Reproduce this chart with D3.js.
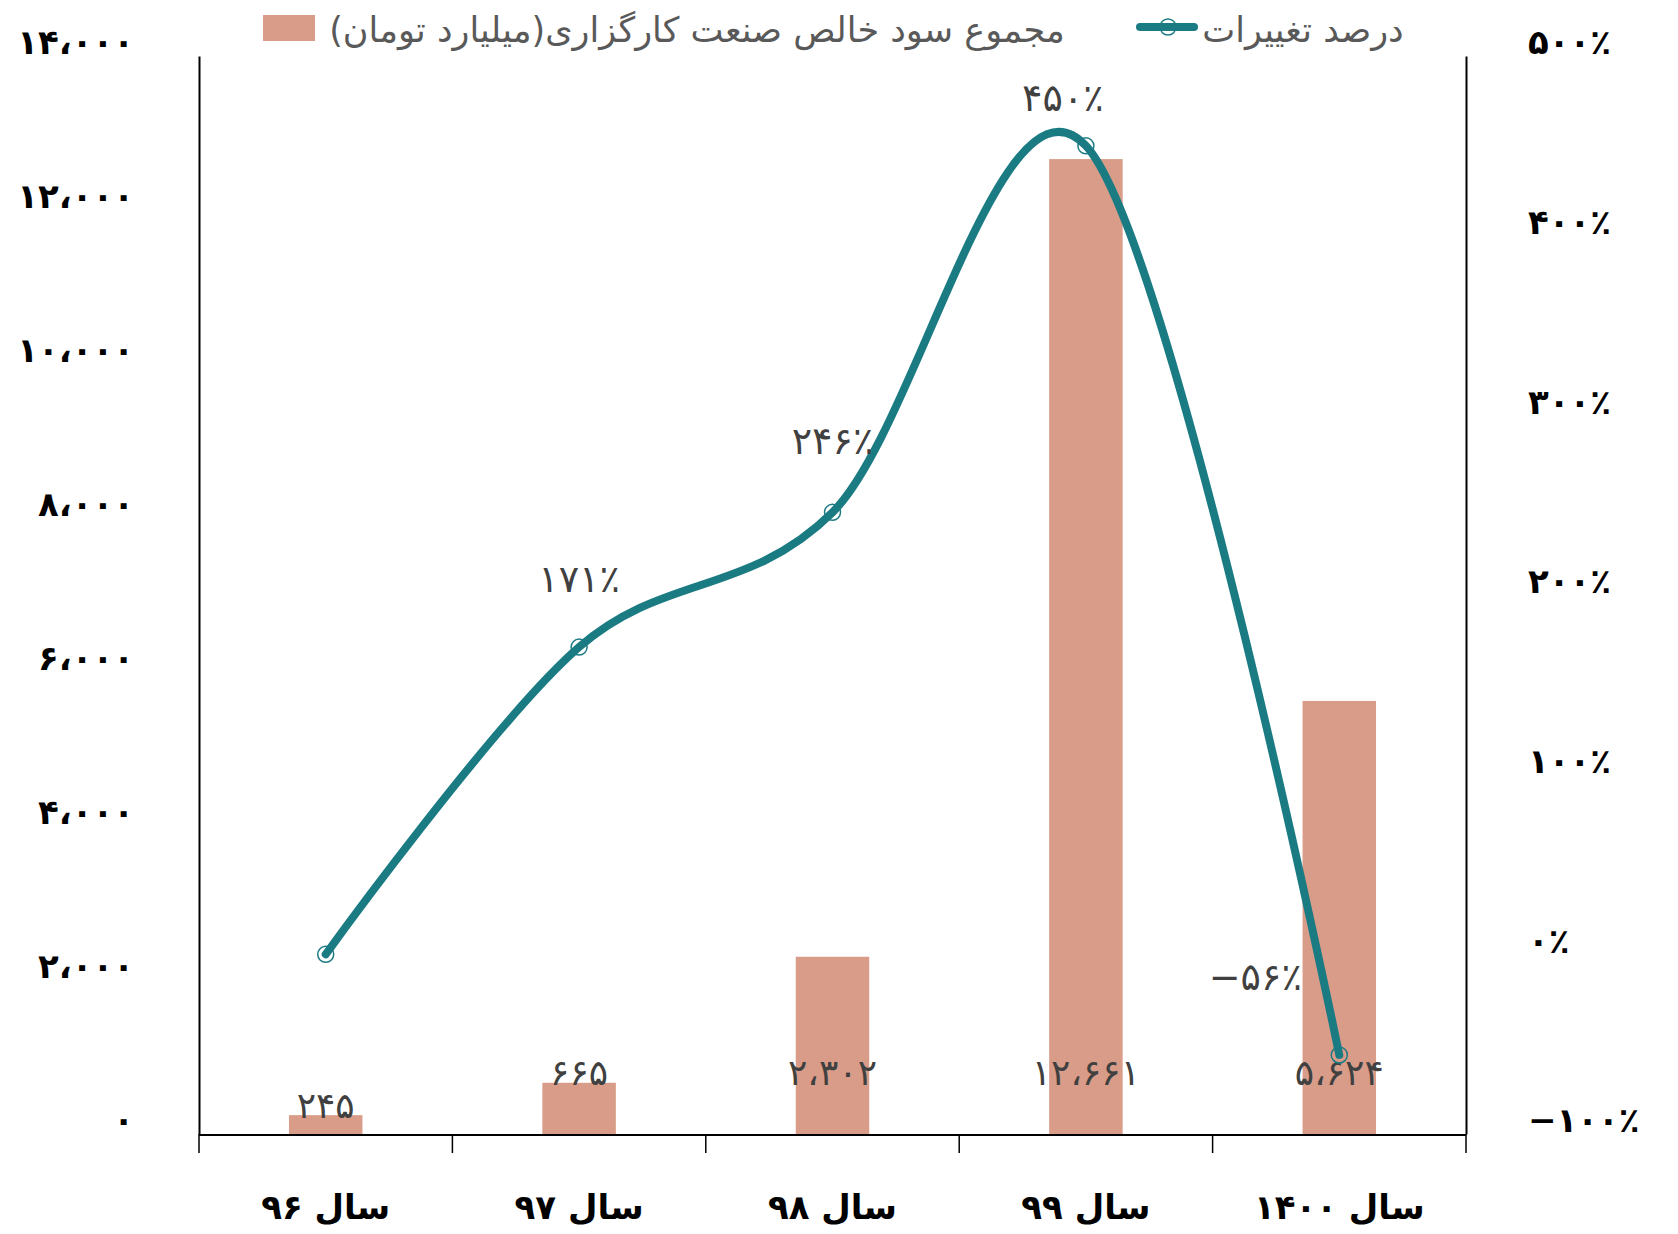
<!DOCTYPE html>
<html>
<head>
<meta charset="utf-8">
<script src="https://cdn.jsdelivr.net/npm/d3@7"></script>
<style>
  body { margin: 0; background: #fff; }
  svg { display: block; font-family: "DejaVu Sans", sans-serif; }
</style>
</head>
<body>
<svg id="chart" width="1678" height="1234"></svg>
<script>
// data
const categories = ["سال ۹۶", "سال ۹۷", "سال ۹۸", "سال ۹۹", "سال ۱۴۰۰"];
const profit = [245, 665, 2302, 12661, 5624];
const change = [0, 171, 246, 450, -56];
const changeShown = [false, true, true, true, true];
const leftTicks = [0, 2000, 4000, 6000, 8000, 10000, 12000, 14000];
const rightTicks = [-100, 0, 100, 200, 300, 400, 500];
const barName = "مجموع سود خالص صنعت کارگزاری(میلیارد تومان)";
const lineName = "درصد تغییرات";

const barColor = "#d89c89";
const lineColor = "#1b7b83";

const fa = s => String(s).replace(/\d/g, d => "۰۱۲۳۴۵۶۷۸۹"[d]).replace(/,/g, "،").replace(/-/g, "−");
const fmtNum = v => fa(d3.format(",")(v));
const fmtPct = v => fa(v + "") + "٪";

const svg = d3.select("#chart");
const margin = { left: 199, right: 1466, top: 56, bottom: 1134 };

const x = d3.scaleBand().domain(categories).range([margin.left, margin.right]).padding(0);
const yL = d3.scaleLinear().domain([0, 14000]).range([margin.bottom, margin.top]);
const yR = d3.scaleLinear().domain([-100, 500]).range([margin.bottom, margin.top]);
const cx = c => x(c) + x.bandwidth() / 2;

// bars
const barW = x.bandwidth() * 0.29;
svg.append("g")
  .selectAll("rect")
  .data(profit)
  .join("rect")
  .attr("x", (d, i) => cx(categories[i]) - barW / 2)
  .attr("y", d => yL(d))
  .attr("width", barW)
  .attr("height", d => yL(0) - yL(d))
  .attr("fill", barColor);

// axes
const leftAxis = svg.append("g")
  .attr("transform", `translate(${margin.left},0)`)
  .call(d3.axisLeft(yL).tickValues(leftTicks).tickSize(0).tickPadding(65).tickFormat(fmtNum));
leftAxis.select(".domain").attr("stroke", "#000").attr("stroke-width", 2);
leftAxis.selectAll("text")
  .attr("y", -13)
  .attr("font-size", 34).attr("font-weight", "bold").attr("fill", "#000")
  .attr("font-family", "DejaVu Sans");

const rightAxis = svg.append("g")
  .attr("transform", `translate(${margin.right},0)`)
  .call(d3.axisRight(yR).tickValues(rightTicks).tickSize(0).tickPadding(62).tickFormat(fmtPct));
rightAxis.select(".domain").attr("stroke", "#000").attr("stroke-width", 2);
rightAxis.selectAll("text")
  .attr("y", -13)
  .attr("font-size", 34).attr("font-weight", "bold").attr("fill", "#000")
  .attr("font-family", "DejaVu Sans");

// category axis: line + ticks at band edges
const edges = categories.map(c => x(c)).concat([x.range()[1]]);
const xAxis = svg.append("g");
xAxis.append("line")
  .attr("x1", margin.left).attr("x2", margin.right)
  .attr("y1", yL(0) + 1).attr("y2", yL(0) + 1)
  .attr("stroke", "#000").attr("stroke-width", 2);
xAxis.selectAll(".tk")
  .data(edges)
  .join("line")
  .attr("class", "tk")
  .attr("x1", d => d).attr("x2", d => d)
  .attr("y1", yL(0)).attr("y2", yL(0) + 19)
  .attr("stroke", "#000").attr("stroke-width", 1.5);
xAxis.selectAll("text")
  .data(categories)
  .join("text")
  .attr("x", d => cx(d))
  .attr("y", 1207)
  .attr("dy", "0.35em")
  .attr("text-anchor", "middle")
  .attr("direction", "rtl")
  .attr("font-size", 34)
  .attr("font-weight", "bold")
  .attr("fill", "#000")
  .text(d => d);

// bar labels (tall bars keep their label down near the base)
const labelFloor = yL(665);
svg.append("g")
  .selectAll("text")
  .data(profit)
  .join("text")
  .attr("x", (d, i) => cx(categories[i]))
  .attr("y", d => Math.max(yL(d), labelFloor) - 10)
  .attr("dy", "0.35em")
  .attr("text-anchor", "middle")
  .attr("font-size", 36)
  .attr("fill", "#404040")
  .text(d => fmtNum(d));

// change line
const line = d3.line()
  .x((d, i) => cx(categories[i]))
  .y(d => yR(d))
  .curve(d3.curveCardinal.tension(0));

svg.append("path")
  .datum(change)
  .attr("d", line)
  .attr("fill", "none")
  .attr("stroke", lineColor)
  .attr("stroke-width", 8)
  .attr("stroke-linecap", "round");

svg.append("g")
  .selectAll("circle")
  .data(change)
  .join("circle")
  .attr("cx", (d, i) => cx(categories[i]))
  .attr("cy", d => yR(d))
  .attr("r", 8)
  .attr("fill", "none")
  .attr("stroke", lineColor)
  .attr("stroke-width", 1.5);

const pctOffsets = [[0, 0], [0, -68], [0, -72], [-23, -48], [-84, -78]];
const pctLabels = change
  .map((v, i) => ({ v, i }))
  .filter(d => changeShown[d.i]);
svg.append("g")
  .selectAll("text")
  .data(pctLabels)
  .join("text")
  .attr("x", d => cx(categories[d.i]) + pctOffsets[d.i][0])
  .attr("y", d => yR(d.v) + pctOffsets[d.i][1])
  .attr("dy", "0.35em")
  .attr("text-anchor", "middle")
  .attr("font-size", 38)
  .attr("fill", "#404040")
  .text(d => fmtPct(d.v));

// legend
const legend = svg.append("g");
legend.append("rect")
  .attr("x", 263).attr("y", 15).attr("width", 52).attr("height", 26)
  .attr("fill", barColor);
legend.append("text")
  .attr("x", 697).attr("y", 30).attr("dy", "0.35em")
  .attr("text-anchor", "middle").attr("direction", "rtl")
  .attr("font-size", 35).attr("fill", "#595959")
  .text(barName);
legend.append("line")
  .attr("x1", 1140).attr("x2", 1194).attr("y1", 27).attr("y2", 27)
  .attr("stroke", lineColor).attr("stroke-width", 8).attr("stroke-linecap", "round");
legend.append("circle")
  .attr("cx", 1168).attr("cy", 27).attr("r", 8)
  .attr("fill", "none").attr("stroke", lineColor).attr("stroke-width", 1.5);
legend.append("text")
  .attr("x", 1303).attr("y", 30).attr("dy", "0.35em")
  .attr("text-anchor", "middle").attr("direction", "rtl")
  .attr("font-size", 35).attr("fill", "#595959")
  .text(lineName);
</script>
</body>
</html>
